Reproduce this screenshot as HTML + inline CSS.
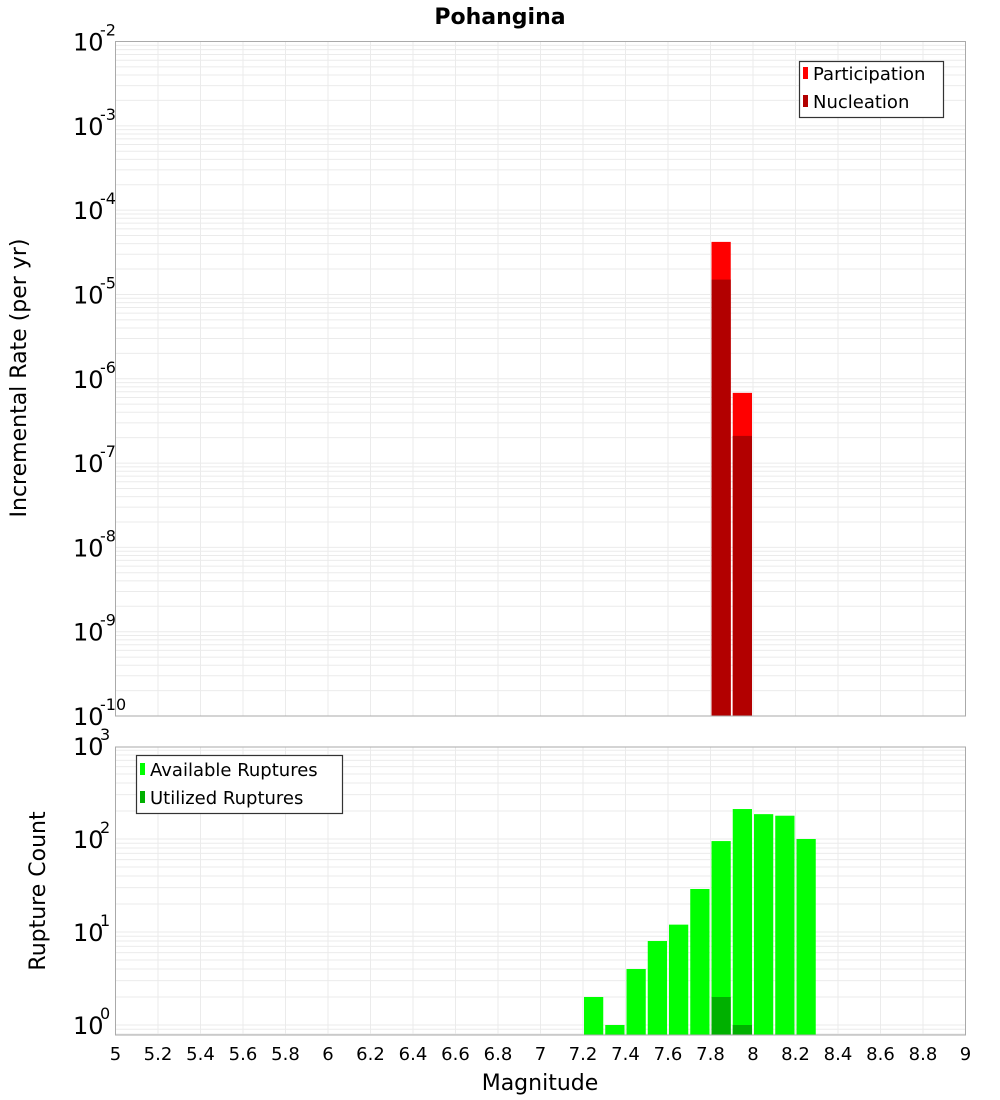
<!DOCTYPE html>
<html><head><meta charset="utf-8"><style>
body{margin:0;background:#fff;}
svg{display:block;font-family:"DejaVu Sans","Liberation Sans",sans-serif;}
</style></head><body>
<svg id="chart" width="1000" height="1100" viewBox="0 0 1000 1100" xmlns="http://www.w3.org/2000/svg">
<text x="500" y="24" text-anchor="middle" font-size="22" font-weight="bold">Pohangina</text>
<g id="topPlot"></g>
<g id="botPlot"></g>
<text transform="translate(26,378) rotate(-90)" text-anchor="middle" font-size="22">Incremental Rate (per yr)</text>
<text transform="translate(45,891) rotate(-90)" text-anchor="middle" font-size="22">Rupture Count</text>
<text x="540" y="1090" text-anchor="middle" font-size="22">Magnitude</text>
<g>
<rect x="799.5" y="61.5" width="144" height="56" fill="#fff" stroke="#333" stroke-width="1.2"/>
<rect x="803" y="67" width="5" height="12" fill="#ff0000"/>
<text x="813" y="80" font-size="18">Participation</text>
<rect x="803" y="95" width="5" height="12" fill="#b20000"/>
<text x="813" y="108" font-size="18">Nucleation</text>
</g>
<g>
<rect x="136.5" y="755.5" width="206" height="58" fill="#fff" stroke="#333" stroke-width="1.2"/>
<rect x="140" y="763" width="5" height="12" fill="#00ff00"/>
<text x="150" y="776" font-size="18">Available Ruptures</text>
<rect x="140" y="791" width="5" height="12" fill="#00b000"/>
<text x="150" y="804" font-size="18">Utilized Ruptures</text>
</g>
</svg>
<script>
const rateMags=[7.85,7.95];
const participation=[4.2e-5,6.8e-7];
const nucleation=[1.5e-5,2.1e-7];
const countMags=[7.25,7.35,7.45,7.55,7.65,7.75,7.85,7.95,8.05,8.15,8.25];
const available=[2,1,4,8,12,29,95,210,185,178,100];
const utilMags=[7.85,7.95];
const utilized=[2,1];
const xTicks=["5","5.2","5.4","5.6","5.8","6","6.2","6.4","6.6","6.8","7","7.2","7.4","7.6","7.8","8","8.2","8.4","8.6","8.8","9"];
const topExp=[-2,-3,-4,-5,-6,-7,-8,-9,-10];
const botExp=[3,2,1,0];

const NS="http://www.w3.org/2000/svg";
const X0=115.5,X1=965.5;
const xs=m=>X0+(m-5)/4*(X1-X0);
const T0=41.5,T1=716;
const yt=v=>T0+(-2-Math.log10(v))/8*(T1-T0);
const B0=747,B1=1035,Bdec=93,B1e0=1025;
const yb=v=>B1e0-Math.log10(v)*Bdec;
function mk(p,tag,a){const e=document.createElementNS(NS,tag);for(const k in a)e.setAttribute(k,a[k]);p.appendChild(e);return e;}
const gTop=document.getElementById('topPlot'),gBot=document.getElementById('botPlot');

function frame(g,y0,y1,yfn,lo,hi){
  mk(g,'rect',{x:X0,y:y0,width:X1-X0,height:y1-y0,fill:'#fff'});
  for(let d=lo;d<hi;d++)for(let k=1;k<10;k++){const y=yfn(k*Math.pow(10,d));if(y>=y0&&y<=y1){
    const l=mk(g,'line',{x1:X0,x2:X1,y1:y,y2:y,stroke:'#ebebeb','stroke-width':1});
    
    }}
  xTicks.forEach(t=>{const x=xs(+t);const l=mk(g,'line',{x1:x,x2:x,y1:y0,y2:y1,stroke:'#ebebeb','stroke-width':1});
    
    });
}
function border(g,y0,y1){const r=mk(g,'rect',{x:X0,y:y0,width:X1-X0,height:y1-y0,fill:'none',stroke:'#aaa','stroke-width':1});
  
  }
function ylab(g,e,y){const t=mk(g,'text',{x:73,y:y+9,'font-size':24});t.textContent='10';
  
  
  const s=mk(g,'text',{x:100,y:y-6,'font-size':16});s.textContent=String(e);
  
  }
function bar(g,m,v,yfn,yb0,fill,name){const x=xs(m-0.05)+1,w=xs(m+0.05)-xs(m-0.05)-2,y=yfn(v);
  const r=mk(g,'rect',{x:x,y:y,width:w,height:yb0-y,fill:fill});
  
  }

frame(gTop,T0,T1,yt,-10,-2);
rateMags.forEach((m,i)=>bar(gTop,m,participation[i],yt,T1,'#ff0000','participation-bar'));
rateMags.forEach((m,i)=>bar(gTop,m,nucleation[i],yt,T1,'#b20000','nucleation-bar'));
border(gTop,T0,T1);
topExp.forEach(e=>ylab(gTop,e,yt(Math.pow(10,e))));

frame(gBot,B0,B1,yb,-1,3);
countMags.forEach((m,i)=>bar(gBot,m,available[i],yb,B1,'#00ff00','available-bar'));
utilMags.forEach((m,i)=>bar(gBot,m,utilized[i],yb,B1,'#00b000','utilized-bar'));
border(gBot,B0,B1);
botExp.forEach(e=>ylab(gBot,e,yb(Math.pow(10,e))));
xTicks.forEach(t=>{const tx=mk(gBot,'text',{x:xs(+t),y:1060,'text-anchor':'middle','font-size':18});tx.textContent=t;
  
  });
</script>
</body></html>
